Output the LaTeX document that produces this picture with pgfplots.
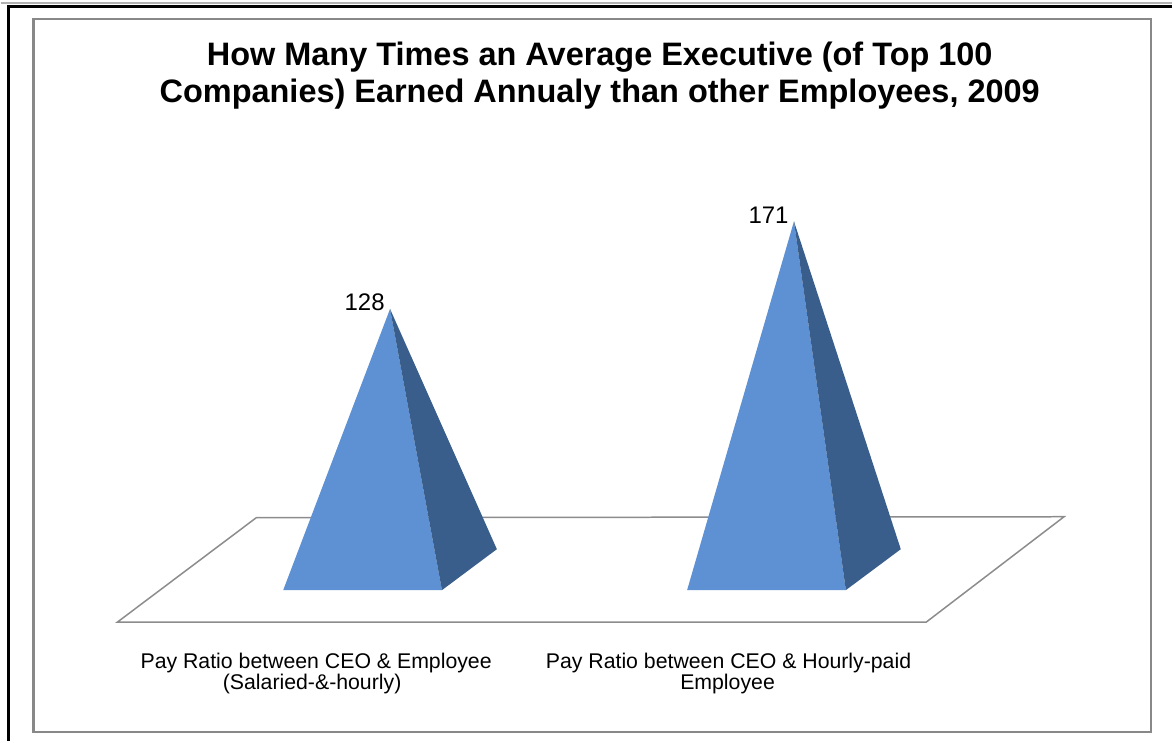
\documentclass[border=0pt]{standalone}
\usepackage{pgfplots}
\pgfplotsset{compat=1.18}
\usepackage{fontspec}
\setmainfont{Liberation Sans}
\definecolor{frontblue}{RGB}{94,145,211}
\definecolor{sideblue}{RGB}{58,94,139}
\definecolor{framegray}{RGB}{136,136,136}
\definecolor{floorgray}{RGB}{140,140,140}
\begin{document}
\begin{tikzpicture}
\begin{axis}[
  scale only axis,
  width=586.5pt, height=371pt,
  xmin=-0.96415, xmax=1.93572,
  ymin=-84.069, ymax=279.657,
  hide axis, clip=false,
]
% bounding area
\path (rel axis cs:0,0) rectangle (rel axis cs:1,1);
% outer frame lines
\draw[gray!60, line width=0.6pt] (rel axis cs:0,0.99596) -- (rel axis cs:1,0.99596);
\draw[black, line width=1.1pt] (rel axis cs:0.00682,0) -- (rel axis cs:0.00682,0.99124) -- (rel axis cs:1,0.99124);
% inner chart frame
\draw[framegray, line width=1.3pt] (rel axis cs:0.02813,0.01213) rectangle (rel axis cs:0.98210,0.97439);
% floor
\draw[floorgray, line width=0.75pt] (rel axis cs:0.09974,0.16038) -- (rel axis cs:0.79028,0.16038) -- (rel axis cs:0.90793,0.30256) -- (rel axis cs:0.21824,0.30121) -- cycle;
% pyramid 1: value 128
\addplot[fill=frontblue, draw=none] coordinates {(-0.2645,-10.05) (0.1285,-10.05) (0,128)} -- cycle;
\addplot[fill=sideblue, draw=none] coordinates {(0.1285,-10.05) (0.2645,10.05) (0,128)} -- cycle;
% pyramid 2: value 171
\addplot[fill=frontblue, draw=none] coordinates {(0.7355,-10.05) (1.1285,-10.05) (1,171)} -- cycle;
\addplot[fill=sideblue, draw=none] coordinates {(1.1285,-10.05) (1.2645,10.05) (1,171)} -- cycle;
% data labels
\node[anchor=base east, inner sep=0pt, xshift=-2.5pt, yshift=-1pt, font=\fontsize{12}{14}\selectfont] at (axis cs:0,128) {128};
\node[anchor=base east, inner sep=0pt, xshift=-2.5pt, yshift=-1pt, font=\fontsize{12}{14}\selectfont] at (axis cs:1,171) {171};
% title
\node[anchor=base, inner sep=0pt, font=\fontsize{16.25}{18}\selectfont\bfseries] at (rel axis cs:0.51151,0.91105) {How Many Times an Average Executive (of Top 100};
\node[anchor=base, inner sep=0pt, font=\fontsize{16.25}{18}\selectfont\bfseries] at (rel axis cs:0.51151,0.86159) {Companies) Earned Annualy than other Employees, 2009};
% category labels
\node[anchor=base, inner sep=0pt, font=\fontsize{10.65}{12}\selectfont] at (rel axis cs:0.26939,0.09838) {Pay Ratio between CEO \& Employee};
\node[anchor=base, inner sep=0pt, font=\fontsize{10.65}{12}\selectfont] at (rel axis cs:0.26598,0.06873) {(Salaried-\&-hourly)};
\node[anchor=base, inner sep=0pt, font=\fontsize{10.65}{12}\selectfont] at (rel axis cs:0.62148,0.09838) {Pay Ratio between CEO \& Hourly-paid};
\node[anchor=base, inner sep=0pt, font=\fontsize{10.65}{12}\selectfont] at (rel axis cs:0.62063,0.06873) {Employee};
\end{axis}
\end{tikzpicture}
\end{document}
